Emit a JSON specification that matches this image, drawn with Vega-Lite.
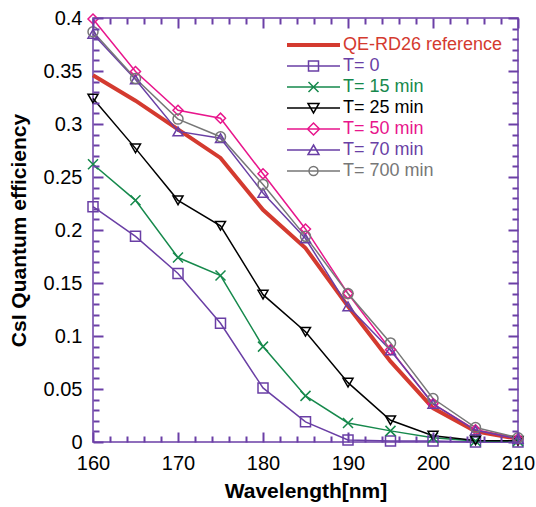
{
  "$schema": "https://vega.github.io/schema/vega-lite/v6.json",
  "width": 425,
  "height": 424,
  "autosize": {"type": "none"},
  "padding": {"left": 93, "top": 18, "right": 18, "bottom": 65},
  "config": {
    "view": {"stroke": "#6b3fa6", "strokeWidth": 1.5}
  },
  "data": {
    "values": [
      {"series": "QE-RD26 reference", "wavelength": 160, "qe": 0.346},
      {"series": "QE-RD26 reference", "wavelength": 165, "qe": 0.322},
      {"series": "QE-RD26 reference", "wavelength": 170, "qe": 0.295},
      {"series": "QE-RD26 reference", "wavelength": 175, "qe": 0.268},
      {"series": "QE-RD26 reference", "wavelength": 180, "qe": 0.219},
      {"series": "QE-RD26 reference", "wavelength": 185, "qe": 0.183},
      {"series": "QE-RD26 reference", "wavelength": 190, "qe": 0.128},
      {"series": "QE-RD26 reference", "wavelength": 195, "qe": 0.076},
      {"series": "QE-RD26 reference", "wavelength": 200, "qe": 0.032},
      {"series": "QE-RD26 reference", "wavelength": 205, "qe": 0.010},
      {"series": "QE-RD26 reference", "wavelength": 210, "qe": 0.003},
      {"series": "T= 0", "wavelength": 160, "qe": 0.222},
      {"series": "T= 0", "wavelength": 165, "qe": 0.194},
      {"series": "T= 0", "wavelength": 170, "qe": 0.159},
      {"series": "T= 0", "wavelength": 175, "qe": 0.112},
      {"series": "T= 0", "wavelength": 180, "qe": 0.051},
      {"series": "T= 0", "wavelength": 185, "qe": 0.019},
      {"series": "T= 0", "wavelength": 190, "qe": 0.002},
      {"series": "T= 0", "wavelength": 195, "qe": 0.001},
      {"series": "T= 0", "wavelength": 200, "qe": 0.001},
      {"series": "T= 0", "wavelength": 205, "qe": 0.0},
      {"series": "T= 0", "wavelength": 210, "qe": 0.0},
      {"series": "T= 15 min", "wavelength": 160, "qe": 0.262},
      {"series": "T= 15 min", "wavelength": 165, "qe": 0.228},
      {"series": "T= 15 min", "wavelength": 170, "qe": 0.174},
      {"series": "T= 15 min", "wavelength": 175, "qe": 0.157},
      {"series": "T= 15 min", "wavelength": 180, "qe": 0.090},
      {"series": "T= 15 min", "wavelength": 185, "qe": 0.0435},
      {"series": "T= 15 min", "wavelength": 190, "qe": 0.018},
      {"series": "T= 15 min", "wavelength": 195, "qe": 0.0105},
      {"series": "T= 15 min", "wavelength": 200, "qe": 0.004},
      {"series": "T= 15 min", "wavelength": 205, "qe": 0.001},
      {"series": "T= 15 min", "wavelength": 210, "qe": 0.001},
      {"series": "T= 25 min", "wavelength": 160, "qe": 0.324},
      {"series": "T= 25 min", "wavelength": 165, "qe": 0.277},
      {"series": "T= 25 min", "wavelength": 170, "qe": 0.228},
      {"series": "T= 25 min", "wavelength": 175, "qe": 0.204},
      {"series": "T= 25 min", "wavelength": 180, "qe": 0.139},
      {"series": "T= 25 min", "wavelength": 185, "qe": 0.104},
      {"series": "T= 25 min", "wavelength": 190, "qe": 0.056},
      {"series": "T= 25 min", "wavelength": 195, "qe": 0.0205},
      {"series": "T= 25 min", "wavelength": 200, "qe": 0.006},
      {"series": "T= 25 min", "wavelength": 205, "qe": 0.0015},
      {"series": "T= 25 min", "wavelength": 210, "qe": 0.001},
      {"series": "T= 50 min", "wavelength": 160, "qe": 0.399},
      {"series": "T= 50 min", "wavelength": 165, "qe": 0.3495},
      {"series": "T= 50 min", "wavelength": 170, "qe": 0.313},
      {"series": "T= 50 min", "wavelength": 175, "qe": 0.3055},
      {"series": "T= 50 min", "wavelength": 180, "qe": 0.253},
      {"series": "T= 50 min", "wavelength": 185, "qe": 0.201},
      {"series": "T= 50 min", "wavelength": 190, "qe": 0.140},
      {"series": "T= 50 min", "wavelength": 195, "qe": 0.087},
      {"series": "T= 50 min", "wavelength": 200, "qe": 0.036},
      {"series": "T= 50 min", "wavelength": 205, "qe": 0.0115},
      {"series": "T= 50 min", "wavelength": 210, "qe": 0.003},
      {"series": "T= 70 min", "wavelength": 160, "qe": 0.385},
      {"series": "T= 70 min", "wavelength": 165, "qe": 0.342},
      {"series": "T= 70 min", "wavelength": 170, "qe": 0.293},
      {"series": "T= 70 min", "wavelength": 175, "qe": 0.2866},
      {"series": "T= 70 min", "wavelength": 180, "qe": 0.235},
      {"series": "T= 70 min", "wavelength": 185, "qe": 0.192},
      {"series": "T= 70 min", "wavelength": 190, "qe": 0.128},
      {"series": "T= 70 min", "wavelength": 195, "qe": 0.0865},
      {"series": "T= 70 min", "wavelength": 200, "qe": 0.036},
      {"series": "T= 70 min", "wavelength": 205, "qe": 0.011},
      {"series": "T= 70 min", "wavelength": 210, "qe": 0.003},
      {"series": "T= 700 min", "wavelength": 160, "qe": 0.387},
      {"series": "T= 700 min", "wavelength": 165, "qe": 0.343},
      {"series": "T= 700 min", "wavelength": 170, "qe": 0.3046},
      {"series": "T= 700 min", "wavelength": 175, "qe": 0.288},
      {"series": "T= 700 min", "wavelength": 180, "qe": 0.243},
      {"series": "T= 700 min", "wavelength": 185, "qe": 0.194},
      {"series": "T= 700 min", "wavelength": 190, "qe": 0.140},
      {"series": "T= 700 min", "wavelength": 195, "qe": 0.0935},
      {"series": "T= 700 min", "wavelength": 200, "qe": 0.041},
      {"series": "T= 700 min", "wavelength": 205, "qe": 0.0136},
      {"series": "T= 700 min", "wavelength": 210, "qe": 0.004}
    ]
  },
  "layer": [
    {
      "mark": {"type": "line"},
      "encoding": {
        "x": {
          "field": "wavelength", "type": "quantitative",
          "scale": {"domain": [160, 210], "nice": false, "zero": false},
          "axis": {
            "orient": "bottom",
            "title": "Wavelength[nm]",
            "values": [160, 170, 180, 190, 200, 210],
            "format": "d",
            "zindex": 2,
            "grid": false, "domain": false,
            "tickSize": -10, "tickColor": "#6b3fa6", "tickWidth": 2,
            "labelPadding": 21, "labelFlush": false, "labelOverlap": false,
            "labelFont": "Liberation Sans", "labelFontSize": 20, "labelColor": "black",
            "titleFont": "Liberation Sans", "titleFontSize": 21, "titleFontWeight": "bold", "titleColor": "black",
            "titlePadding": 7
          }
        },
        "y": {
          "field": "qe", "type": "quantitative",
          "scale": {"domain": [0, 0.4], "nice": false},
          "axis": {
            "orient": "left",
            "title": "CsI Quantum efficiency",
            "values": [0, 0.05, 0.1, 0.15, 0.2, 0.25, 0.3, 0.35, 0.4],
            "format": "~g",
            "zindex": 2,
            "grid": false, "domain": false,
            "tickSize": -10, "tickColor": "#6b3fa6", "tickWidth": 2,
            "labelPadding": 21, "labelFlush": false, "labelOverlap": false,
            "labelFont": "Liberation Sans", "labelFontSize": 20, "labelColor": "black",
            "titleFont": "Liberation Sans", "titleFontSize": 21, "titleFontWeight": "bold", "titleColor": "black",
            "titlePadding": 14
          }
        },
        "color": {
          "field": "series", "type": "nominal",
          "scale": {
            "domain": ["QE-RD26 reference", "T= 0", "T= 15 min", "T= 25 min", "T= 50 min", "T= 70 min", "T= 700 min"],
            "range": ["#d43a2f", "#6a3fa5", "#16894c", "#000000", "#e8168c", "#6a3fa5", "#777777"]
          },
          "legend": {
            "orient": "none",
            "legendX": 228,
            "legendY": 18,
            "title": null,
            "padding": 0,
            "rowPadding": 3,
            "labelOffset": 4,
            "labelFont": "Liberation Sans",
            "labelFontSize": 18,
            "labelColor": {"expr": "scale('color', datum.value)"},
            "symbolSize": 100,
            "symbolStrokeWidth": 1.5,
            "symbolFillColor": "transparent",
            "symbolStrokeColor": {"expr": "scale('color', datum.value)"},
            "symbolOpacity": 1,
            "symbolType": {"expr": "datum.value === 'QE-RD26 reference' ? 'M-8.6,-0.25H2M-8.6,0H2M-8.6,0.25H2' : datum.value === 'T= 0' ? 'M-8.6,0H2M-4.3,-1H-2.3V1H-4.3Z' : datum.value === 'T= 15 min' ? 'M-8.6,0H2M-4.3,-1L-2.3,1M-4.3,1L-2.3,-1' : datum.value === 'T= 25 min' ? 'M-8.6,0H2M-4.4,-0.9H-2.2L-3.3,1Z' : datum.value === 'T= 50 min' ? 'M-8.6,0H2M-3.3,-1.2L-2.1,0L-3.3,1.2L-4.5,0Z' : datum.value === 'T= 70 min' ? 'M-8.6,0H2M-3.3,-1L-2.2,0.9H-4.4Z' : 'M-8.6,0H2M-4.2,0A0.9,0.9,0,1,1,-2.4,0A0.9,0.9,0,1,1,-4.2,0'"}
          }
        },
        "strokeWidth": {
          "condition": {"test": "datum.series === 'QE-RD26 reference'", "value": 4},
          "value": 1.5
        }
      }
    },
    {
      "transform": [{"filter": "datum.series !== 'QE-RD26 reference'"}],
      "mark": {"type": "point", "filled": false, "strokeWidth": 1.5, "size": 100, "opacity": 1},
      "encoding": {
        "x": {"field": "wavelength", "type": "quantitative", "scale": {"domain": [160, 210], "nice": false, "zero": false}, "axis": null},
        "y": {"field": "qe", "type": "quantitative", "scale": {"domain": [0, 0.4], "nice": false}, "axis": null},
        "color": {
          "field": "series", "type": "nominal",
          "scale": {
            "domain": ["QE-RD26 reference", "T= 0", "T= 15 min", "T= 25 min", "T= 50 min", "T= 70 min", "T= 700 min"],
            "range": ["#d43a2f", "#6a3fa5", "#16894c", "#000000", "#e8168c", "#6a3fa5", "#777777"]
          },
          "legend": {
            "orient": "none",
            "legendX": 228,
            "legendY": 18,
            "title": null,
            "padding": 0,
            "rowPadding": 3,
            "labelOffset": 4,
            "labelFont": "Liberation Sans",
            "labelFontSize": 18,
            "labelColor": {"expr": "scale('color', datum.value)"},
            "symbolSize": 100,
            "symbolStrokeWidth": 1.5,
            "symbolFillColor": "transparent",
            "symbolStrokeColor": {"expr": "scale('color', datum.value)"},
            "symbolOpacity": 1,
            "symbolType": {"expr": "datum.value === 'QE-RD26 reference' ? 'M-8.6,-0.25H2M-8.6,0H2M-8.6,0.25H2' : datum.value === 'T= 0' ? 'M-8.6,0H2M-4.3,-1H-2.3V1H-4.3Z' : datum.value === 'T= 15 min' ? 'M-8.6,0H2M-4.3,-1L-2.3,1M-4.3,1L-2.3,-1' : datum.value === 'T= 25 min' ? 'M-8.6,0H2M-4.4,-0.9H-2.2L-3.3,1Z' : datum.value === 'T= 50 min' ? 'M-8.6,0H2M-3.3,-1.2L-2.1,0L-3.3,1.2L-4.5,0Z' : datum.value === 'T= 70 min' ? 'M-8.6,0H2M-3.3,-1L-2.2,0.9H-4.4Z' : 'M-8.6,0H2M-4.2,0A0.9,0.9,0,1,1,-2.4,0A0.9,0.9,0,1,1,-4.2,0'"}
          }
        },
        "shape": {
          "field": "series", "type": "nominal",
          "scale": {
            "domain": ["T= 0", "T= 15 min", "T= 25 min", "T= 50 min", "T= 70 min", "T= 700 min"],
            "range": ["square", "M-1,-1L1,1M-1,1L1,-1", "triangle-down", "diamond", "triangle-up", "circle"]
          },
          "legend": null
        }
      }
    },
    {
      "mark": {"type": "point", "opacity": 0},
      "encoding": {
        "x": {
          "field": "wavelength", "type": "quantitative",
          "scale": {"domain": [160, 210], "nice": false, "zero": false},
          "axis": {"orient": "top", "title": null, "labels": false, "zindex": 2, "grid": false, "domain": false, "values": [160, 170, 180, 190, 200, 210], "tickSize": -10, "tickColor": "#6b3fa6", "tickWidth": 2}
        },
        "y": {
          "field": "qe", "type": "quantitative",
          "scale": {"domain": [0, 0.4], "nice": false},
          "axis": {"orient": "right", "title": null, "labels": false, "zindex": 2, "grid": false, "domain": false, "values": [0, 0.05, 0.1, 0.15, 0.2, 0.25, 0.3, 0.35, 0.4], "tickSize": -10, "tickColor": "#6b3fa6", "tickWidth": 2}
        }
      }
    },
    {
      "mark": {"type": "point", "opacity": 0},
      "encoding": {
        "x": {
          "field": "wavelength", "type": "quantitative",
          "scale": {"domain": [160, 210], "nice": false, "zero": false},
          "axis": {"orient": "bottom", "title": null, "labels": false, "zindex": 2, "grid": false, "domain": false, "values": [162,164,166,168,172,174,176,178,182,184,186,188,192,194,196,198,202,204,206,208], "tickSize": -6, "tickColor": "#6b3fa6", "tickWidth": 2}
        },
        "y": {
          "field": "qe", "type": "quantitative",
          "scale": {"domain": [0, 0.4], "nice": false},
          "axis": {"orient": "left", "title": null, "labels": false, "zindex": 2, "grid": false, "domain": false, "values": [0.01,0.02,0.03,0.04,0.06,0.07,0.08,0.09,0.11,0.12,0.13,0.14,0.16,0.17,0.18,0.19,0.21,0.22,0.23,0.24,0.26,0.27,0.28,0.29,0.31,0.32,0.33,0.34,0.36,0.37,0.38,0.39], "tickSize": -6, "tickColor": "#6b3fa6", "tickWidth": 2}
        }
      }
    },
    {
      "mark": {"type": "point", "opacity": 0},
      "encoding": {
        "x": {
          "field": "wavelength", "type": "quantitative",
          "scale": {"domain": [160, 210], "nice": false, "zero": false},
          "axis": {"orient": "top", "title": null, "labels": false, "zindex": 2, "grid": false, "domain": false, "values": [162,164,166,168,172,174,176,178,182,184,186,188,192,194,196,198,202,204,206,208], "tickSize": -6, "tickColor": "#6b3fa6", "tickWidth": 2}
        },
        "y": {
          "field": "qe", "type": "quantitative",
          "scale": {"domain": [0, 0.4], "nice": false},
          "axis": {"orient": "right", "title": null, "labels": false, "zindex": 2, "grid": false, "domain": false, "values": [0.01,0.02,0.03,0.04,0.06,0.07,0.08,0.09,0.11,0.12,0.13,0.14,0.16,0.17,0.18,0.19,0.21,0.22,0.23,0.24,0.26,0.27,0.28,0.29,0.31,0.32,0.33,0.34,0.36,0.37,0.38,0.39], "tickSize": -6, "tickColor": "#6b3fa6", "tickWidth": 2}
        }
      }
    }
  ],
  "resolve": {"axis": {"x": "independent", "y": "independent"}}
}
